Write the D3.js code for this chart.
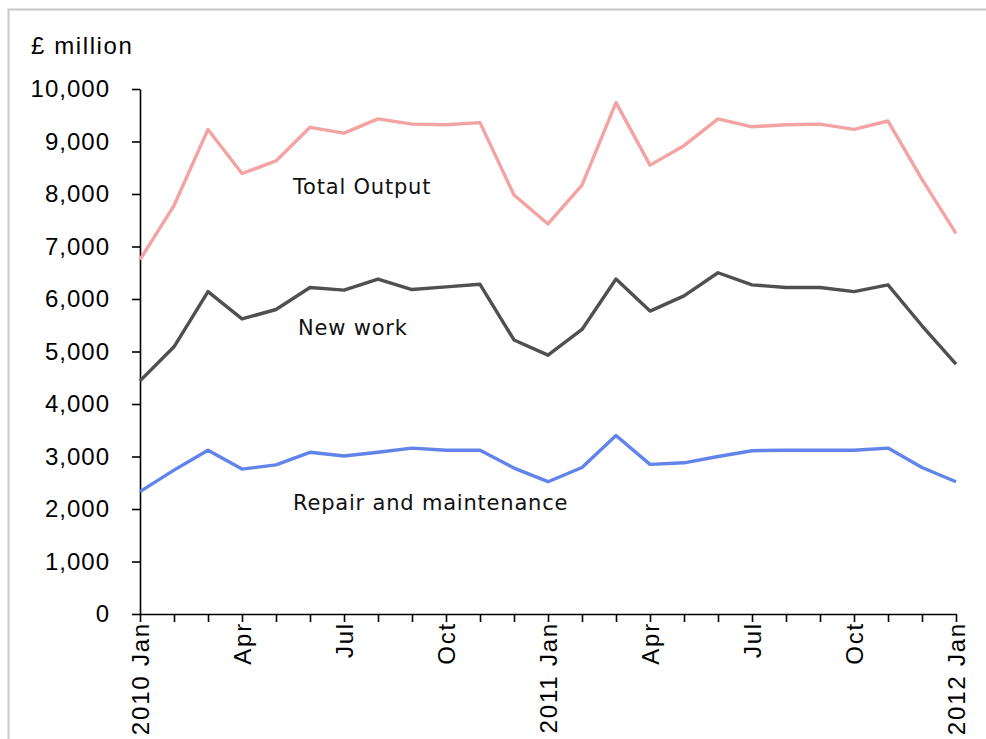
<!DOCTYPE html>
<html><head><meta charset="utf-8">
<script src="https://cdn.jsdelivr.net/npm/d3@7"></script>
<style>body{margin:0;background:#fff;} svg{display:block;}</style>
</head><body>
<svg id="c" width="986" height="739"></svg>
<script>
const months = ["2010 Jan","Feb","Mar","Apr","May","Jun","Jul","Aug","Sep","Oct","Nov","Dec",
  "2011 Jan","Feb","Mar","Apr","May","Jun","Jul","Aug","Sep","Oct","Nov","Dec","2012 Jan"];
const tickLabels = ["2010 Jan","","","Apr","","","Jul","","","Oct","","","2011 Jan","","","Apr","","","Jul","","","Oct","","","2012 Jan"];
const totalOutput = [6750,7780,9230,8390,8630,9270,9160,9430,9330,9320,9360,7980,
  7430,8170,9740,8550,8920,9430,9280,9320,9330,9230,9390,8280,7250];
const newWork = [4440,5090,6140,5620,5800,6220,6170,6380,6180,6230,6280,5220,
  4930,5420,6380,5770,6060,6500,6270,6220,6220,6140,6270,5490,4760];
const repair = [2330,2740,3120,2760,2840,3080,3010,3080,3160,3120,3120,2780,
  2520,2790,3400,2850,2880,3000,3110,3120,3120,3120,3160,2790,2520];
const yTicks = [0,1000,2000,3000,4000,5000,6000,7000,8000,9000,10000];
const series = [
  {name:"Total Output", values: totalOutput, color:"#f4a3a3", lx:293, ly:194},
  {name:"New work", values: newWork, color:"#505050", lx:298, ly:335},
  {name:"Repair and maintenance", values: repair, color:"#6184ea", lx:293, ly:510}
];

const svg = d3.select("#c");
svg.append("rect").attr("x",8.5).attr("y",9.5).attr("width",1100).attr("height",1000)
  .attr("fill","none").attr("stroke","#c8c8c8").attr("stroke-width",2);

const x = d3.scaleLinear().domain([0, months.length-1]).range([140, 956]);
const y = d3.scaleLinear().domain([0, 10000]).range([614, 89]);

// y axis
const ya = svg.append("g").attr("transform","translate(140,0)")
  .call(d3.axisLeft(y).tickValues(yTicks).tickFormat(d3.format(",")).tickSize(8).tickSizeOuter(0).tickPadding(22));
ya.select(".domain").attr("stroke","#000").attr("stroke-width",1.6);
ya.selectAll(".tick line").attr("stroke","#000").attr("stroke-width",1.6);
ya.selectAll("text").attr("font-family","Liberation Sans, Arial, sans-serif").attr("font-size",24)
  .attr("fill","#000").attr("letter-spacing",1);

// x axis
const xa = svg.append("g").attr("transform","translate(0,614)")
  .call(d3.axisBottom(x).tickValues(d3.range(months.length)).tickFormat((d,i)=>tickLabels[i]).tickSize(8).tickSizeOuter(0));
xa.select(".domain").attr("stroke","#000").attr("stroke-width",1.6);
xa.selectAll(".tick line").attr("stroke","#000").attr("stroke-width",1.6);
xa.selectAll("text").attr("font-family","Liberation Sans, Arial, sans-serif").attr("font-size",24)
  .attr("fill","#000").attr("letter-spacing",1.8)
  .attr("transform","rotate(-90)").attr("text-anchor","end")
  .attr("x",-8).attr("y",0).attr("dy","0.35em");

svg.append("text").attr("x",31).attr("y",54).text("£ million")
  .attr("font-family","Liberation Sans, Arial, sans-serif").attr("font-size",24).attr("letter-spacing",1.6).attr("fill","#000");

const line = d3.line().x((d,i)=>x(i)).y(d=>y(d));
series.forEach(s=>{
  svg.append("path").datum(s.values).attr("d",line).attr("fill","none")
    .attr("stroke",s.color).attr("stroke-width",3.4).attr("stroke-linejoin","round");
  svg.append("text").attr("x",s.lx).attr("y",s.ly).text(s.name)
    .attr("font-family","DejaVu Sans, sans-serif").attr("font-size",21).attr("letter-spacing",0.8).attr("fill","#111");
});
</script>
</body></html>
